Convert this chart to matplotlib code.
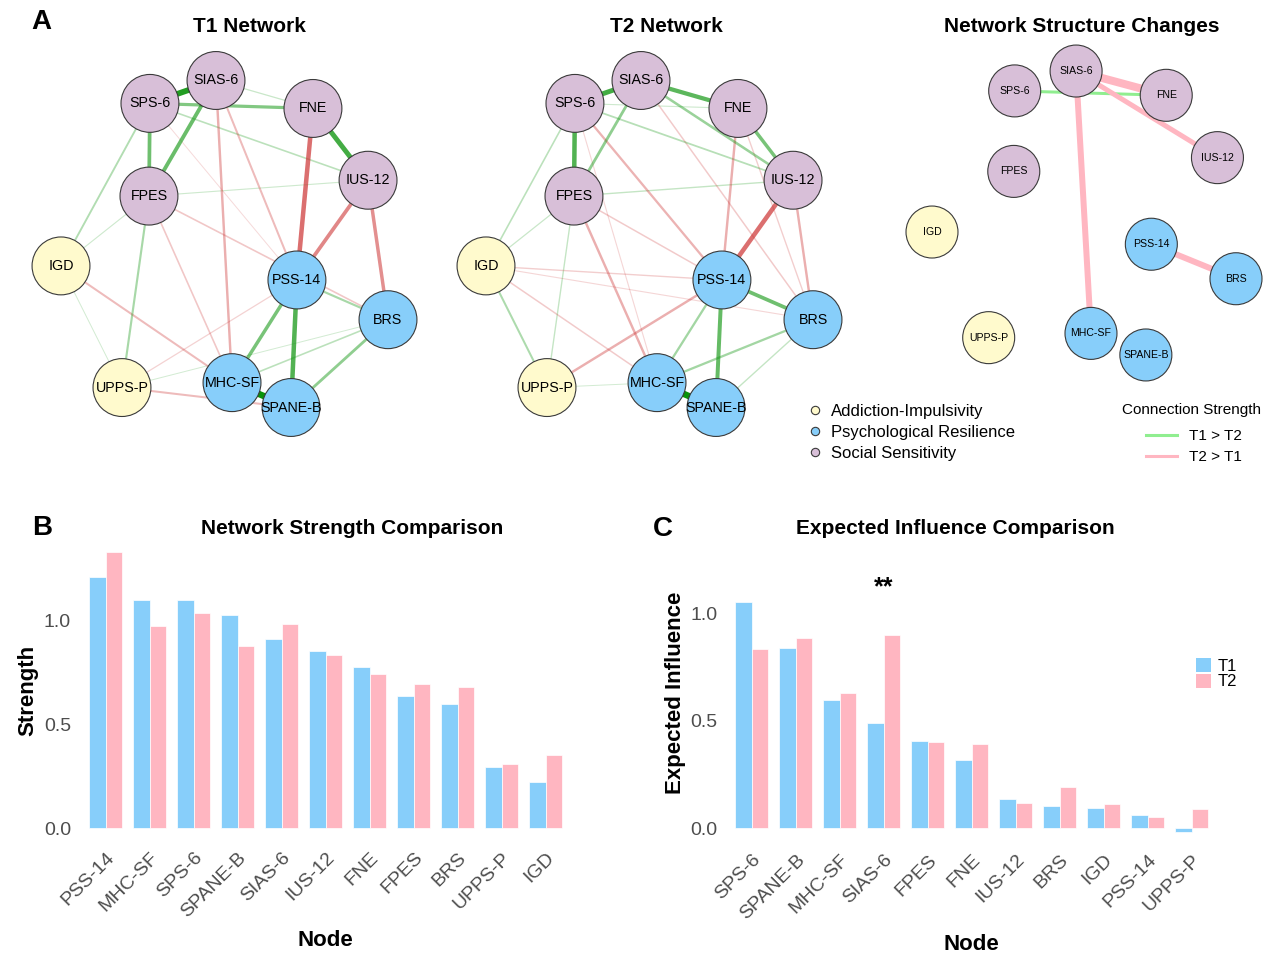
import matplotlib.pyplot as plt
import numpy as np
from matplotlib.lines import Line2D
from matplotlib.patches import Circle, Patch

plt.rcParams["font.family"] = ["Liberation Sans", "DejaVu Sans"]

W, H = 1268, 960


# %% Data

nodes = ["SIAS-6", "SPS-6", "FNE", "IUS-12", "FPES", "IGD",
         "PSS-14", "BRS", "UPPS-P", "MHC-SF", "SPANE-B"]
node_group = [2, 2, 2, 2, 2, 0, 1, 1, 0, 1, 1]
group_names = ["Addiction-Impulsivity", "Psychological Resilience", "Social Sensitivity"]
group_colors = ["#FFFACD", "#87CEFA", "#D8BFD8"]

# spring layout shared by the three networks (qgraph-style, scaled to [-1, 1])
layout_x = [-0.052, -0.456, 0.541, 0.878, -0.462, -1.0, 0.443, 1.0, -0.627, 0.046, 0.407]
layout_y = [1.0, 0.860, 0.829, 0.390, 0.293, -0.134, -0.220, -0.463, -0.878, -0.848, -1.0]

# partial correlations (from, to, weight)
t1_edges = [
    ("MHC-SF", "SPANE-B", 0.45), ("SPS-6", "SIAS-6", 0.40), ("FNE", "IUS-12", 0.33),
    ("PSS-14", "SPANE-B", 0.30), ("SIAS-6", "FPES", 0.25), ("SPS-6", "FPES", 0.24),
    ("PSS-14", "MHC-SF", 0.22), ("SPS-6", "FNE", 0.20), ("BRS", "SPANE-B", 0.17),
    ("PSS-14", "BRS", 0.12), ("FPES", "UPPS-P", 0.12), ("SPS-6", "IGD", 0.10),
    ("SPS-6", "IUS-12", 0.08), ("BRS", "MHC-SF", 0.08), ("SIAS-6", "FNE", 0.05),
    ("FPES", "IUS-12", 0.04), ("FPES", "IGD", 0.04), ("IGD", "UPPS-P", 0.03),
    ("BRS", "UPPS-P", 0.03),
    ("FNE", "PSS-14", -0.30), ("IUS-12", "PSS-14", -0.24), ("IUS-12", "BRS", -0.22),
    ("SIAS-6", "MHC-SF", -0.14), ("SIAS-6", "PSS-14", -0.11), ("IGD", "MHC-SF", -0.11),
    ("UPPS-P", "SPANE-B", -0.11), ("FPES", "MHC-SF", -0.08), ("FPES", "BRS", -0.08),
    ("UPPS-P", "PSS-14", -0.05), ("SPS-6", "PSS-14", -0.03),
]
t2_edges = [
    ("MHC-SF", "SPANE-B", 0.45), ("SPS-6", "SIAS-6", 0.33), ("SPS-6", "FPES", 0.30),
    ("SIAS-6", "FNE", 0.28), ("PSS-14", "SPANE-B", 0.26), ("PSS-14", "BRS", 0.24),
    ("FNE", "IUS-12", 0.22), ("SIAS-6", "FPES", 0.17), ("SIAS-6", "IUS-12", 0.15),
    ("PSS-14", "MHC-SF", 0.13), ("BRS", "MHC-SF", 0.13), ("IGD", "UPPS-P", 0.11),
    ("SPS-6", "IUS-12", 0.09), ("SPS-6", "IGD", 0.08), ("FPES", "IUS-12", 0.06),
    ("FPES", "UPPS-P", 0.06), ("BRS", "SPANE-B", 0.06), ("FPES", "IGD", 0.05),
    ("SPS-6", "FNE", 0.04), ("UPPS-P", "MHC-SF", 0.03),
    ("IUS-12", "PSS-14", -0.30), ("FNE", "PSS-14", -0.14), ("IUS-12", "BRS", -0.14),
    ("SPS-6", "PSS-14", -0.13), ("FPES", "MHC-SF", -0.14), ("UPPS-P", "PSS-14", -0.14),
    ("SIAS-6", "BRS", -0.07), ("FNE", "BRS", -0.06), ("FPES", "PSS-14", -0.07),
    ("IGD", "MHC-SF", -0.07), ("IGD", "PSS-14", -0.06), ("IGD", "BRS", -0.04),
    ("SPS-6", "MHC-SF", -0.04),
]
# significant edge differences: >0 means T1 > T2
change_edges = [
    ("SPS-6", "FNE", 0.09), ("SIAS-6", "FNE", -0.24), ("SIAS-6", "IUS-12", -0.15),
    ("SIAS-6", "MHC-SF", -0.18), ("PSS-14", "BRS", -0.18),
]

strength_nodes = ["PSS-14", "MHC-SF", "SPS-6", "SPANE-B", "SIAS-6", "IUS-12",
                  "FNE", "FPES", "BRS", "UPPS-P", "IGD"]
strength_t1 = [1.213, 1.099, 1.099, 1.026, 0.913, 0.852, 0.779, 0.635, 0.599, 0.295, 0.223]
strength_t2 = [1.333, 0.976, 1.037, 0.878, 0.984, 0.834, 0.745, 0.696, 0.683, 0.308, 0.351]

ei_nodes = ["SPS-6", "SPANE-B", "MHC-SF", "SIAS-6", "FPES", "FNE",
            "IUS-12", "BRS", "IGD", "PSS-14", "UPPS-P"]
ei_t1 = [1.054, 0.837, 0.598, 0.488, 0.407, 0.319, 0.138, 0.105, 0.093, 0.060, -0.019]
ei_t2 = [0.834, 0.884, 0.631, 0.899, 0.403, 0.392, 0.119, 0.194, 0.113, 0.053, 0.090]
ei_sig = "SIAS-6"

T1_COL = "#87CEFA"
T2_COL = "#FFB6C1"


# %% Helpers

fig = plt.figure(figsize=(W / 100, H / 100), dpi=100)


def px_axes(left, top, width, height):
    return fig.add_axes([left / W, 1 - (top + height) / H, width / W, height / H])


def ftext(x, y, s, **kw):
    return fig.text(x / W, 1 - y / H, s, ha="center", va="center", **kw)


def draw_network(ax, edges, yscale=1.0, radius=0.177, fs=10.3, diff=False):
    pos = {n: (x, y * yscale) for n, x, y in zip(nodes, layout_x, layout_y)}
    for a, b, w in sorted(edges, key=lambda e: abs(e[2])):
        (x1, y1), (x2, y2) = pos[a], pos[b]
        if diff:
            color = "#90EE90" if w > 0 else T2_COL
            ax.plot([x1, x2], [y1, y2], color=color, lw=24 * abs(w),
                    solid_capstyle="butt", zorder=2)
        else:
            color = "#0A930A" if w > 0 else "#CC3333"
            alpha = 0.12 + 0.88 * min(abs(w) / 0.45, 1)
            ax.plot([x1, x2], [y1, y2], color=color, alpha=alpha,
                    lw=0.72 * (0.6 + 13 * abs(w)), solid_capstyle="butt",
                    zorder=2 + abs(w))
    for n, g in zip(nodes, node_group):
        x, y = pos[n]
        ax.add_patch(Circle((x, y), radius, fc=group_colors[g], ec="#3a3a3a",
                            lw=0.8, zorder=10))
    for n in nodes:
        x, y = pos[n]
        ax.text(x, y, n, ha="center", va="center", fontsize=fs, color="black", zorder=12)
    ax.set_xlim(-1.25, 1.25)
    ax.set_ylim(-1.25, 1.25)
    ax.axis("off")


# %% Panel A: networks

s1 = 163.5
ax1 = px_axes(224.5 - 1.25 * s1, 244 - 1.25 * s1, 2.5 * s1, 2.5 * s1)
draw_network(ax1, t1_edges)
ax2 = px_axes(649.5 - 1.25 * s1, 244 - 1.25 * s1, 2.5 * s1, 2.5 * s1)
draw_network(ax2, t2_edges)
s3 = 152
ax3 = px_axes(1084 - 1.25 * s3, 213 - 1.25 * s3, 2.5 * s3, 2.5 * s3)
draw_network(ax3, change_edges, yscale=0.934, radius=0.171, fs=7.6, diff=True)

ftext(41, 22, "A", fontsize=20, fontweight="bold")
ftext(249, 26, "T1 Network", fontsize=15, fontweight="bold")
ftext(666, 26, "T2 Network", fontsize=15, fontweight="bold")
ftext(1082, 26, "Network Structure Changes", fontsize=15, fontweight="bold")

grp_handles = [Line2D([], [], ls="", marker="o", ms=6, mfc=c, mec="#3a3a3a", mew=0.8)
               for c in group_colors]
fig.legend(grp_handles, group_names, loc="upper left", bbox_to_anchor=(810 / W, 1 - 404 / H),
           frameon=False, fontsize=12, handlelength=0.6, handletextpad=0.65,
           labelspacing=0.36, borderpad=0, borderaxespad=0)

ftext(1191, 410, "Connection Strength", fontsize=11)
chg_handles = [Line2D([], [], color="#90EE90", lw=2.2), Line2D([], [], color=T2_COL, lw=2.2)]
fig.legend(chg_handles, ["T1 > T2", "T2 > T1"], fontsize=11, loc="upper left",
           bbox_to_anchor=(1146 / W, 1 - 429 / H), frameon=False,
           handlelength=2.0, handletextpad=0.8, labelspacing=0.46, borderpad=0,
           borderaxespad=0)


# %% Bar panels

def bar_panel(ax, names, v1, v2, ylim):
    x = np.arange(len(names))
    ax.bar(x - 0.1875, v1, 0.375, color=T1_COL, edgecolor="white", lw=0.5, label="T1")
    ax.bar(x + 0.1875, v2, 0.375, color=T2_COL, edgecolor="white", lw=0.5, label="T2")
    ax.set_xlim(-0.6, len(names) - 0.4)
    ax.set_ylim(*ylim)
    ax.set_yticks([0.0, 0.5, 1.0])
    ax.set_xticks(x)
    ax.set_xticklabels(names, rotation=45, ha="right", rotation_mode="anchor")
    ax.tick_params(length=0, labelsize=14, labelcolor="#4D4D4D")
    ax.tick_params(axis="y", pad=6)
    ax.tick_params(axis="x", pad=5)
    for sp in ax.spines.values():
        sp.set_visible(False)
    return x


axB = px_axes(79.3, 537.7, 492.8, 304.5)
bar_panel(axB, strength_nodes, strength_t1, strength_t2, (-0.067, 1.40))
ftext(42, 528, "B", fontsize=20, fontweight="bold")
ftext(352, 529, "Network Strength Comparison", fontsize=15, fontweight="bold")
ftext(28, 690, "Strength", fontsize=16, fontweight="bold", rotation=90)
ftext(325, 941, "Node", fontsize=16, fontweight="bold")

axC = px_axes(725.6, 568.1, 492.3, 276.3)
xc = bar_panel(axC, ei_nodes, ei_t1, ei_t2, (-0.075, 1.21))
axC.text(xc[ei_nodes.index(ei_sig)], 1.12, "**", ha="center", va="center",
         fontsize=18, fontweight="bold")
ftext(663, 529, "C", fontsize=20, fontweight="bold")
ftext(955, 529, "Expected Influence Comparison", fontsize=15, fontweight="bold")
ftext(675, 693, "Expected Influence", fontsize=16, fontweight="bold", rotation=90)
ftext(971, 944, "Node", fontsize=16, fontweight="bold")

fig.legend([Patch(fc=T1_COL), Patch(fc=T2_COL)], ["T1", "T2"], loc="upper left",
           bbox_to_anchor=(1195.5 / W, 1 - 658 / H), frameon=False, fontsize=12,
           handlelength=0.9, handleheight=0.9, handletextpad=0.4, labelspacing=0.0,
           borderpad=0, borderaxespad=0)

fig.savefig("out.png", dpi=100)
